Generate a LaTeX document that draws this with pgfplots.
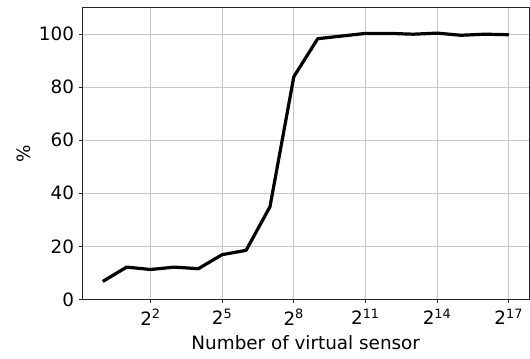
\documentclass[border=0pt]{standalone}
\usepackage{fontspec}
\setmainfont{DejaVu Sans}
\usepackage{pgfplots}
\pgfplotsset{compat=1.18}
\begin{document}
\begin{tikzpicture}[x=0.72pt,y=0.72pt]
\begin{axis}[
  name=ax,
  scale only axis,
  width=321pt, height=210pt,
  xmode=log, log basis x=2,
  xmin=0.555, xmax=236000,
  ymin=0, ymax=110,
  xtick={4,32,256,2048,16384,131072},
  xticklabels={2\textsuperscript{2},2\textsuperscript{5},2\textsuperscript{8},2\textsuperscript{11},2\textsuperscript{14},2\textsuperscript{17}},
  ytick={0,20,40,60,80,100},
  minor xtick={},
  grid=major,
  grid style={color=black!22, line width=0.6pt},
  axis line style={line width=0.6pt, black!85},
  tick align=outside,
  tick pos=left,
  major tick length=2.6pt,
  every tick/.style={black!85, line width=0.6pt},
  /pgf/number format/assume math mode=true,
  tick label style={font=\fontsize{13.2}{15}\selectfont},
  label style={font=\fontsize{13.2}{15}\selectfont},
  xticklabel style={yshift=-1pt},
  xlabel={Number of virtual sensor},
  ylabel={\%},
  xlabel style={yshift=-1pt},
  ylabel style={yshift=-1pt},
  log ticks with fixed point=false,
]
\addplot[black, line width=2.3pt, line join=round] coordinates {
(1,6.8) (2,12.2) (4,11.3) (8,12.2) (16,11.6) (32,16.9) (64,18.5) (128,34.9)
(256,83.9) (512,98.2) (1024,99.2) (2048,100.2) (4096,100.2) (8192,99.9)
(16384,100.3) (32768,99.5) (65536,99.9) (131072,99.7)
};
\end{axis}
\path[use as bounding box] ([xshift=-59.3pt,yshift=-42.5pt]ax.south west) rectangle ([xshift=0.7pt,yshift=5.3pt]ax.north east);
\end{tikzpicture}
\end{document}
